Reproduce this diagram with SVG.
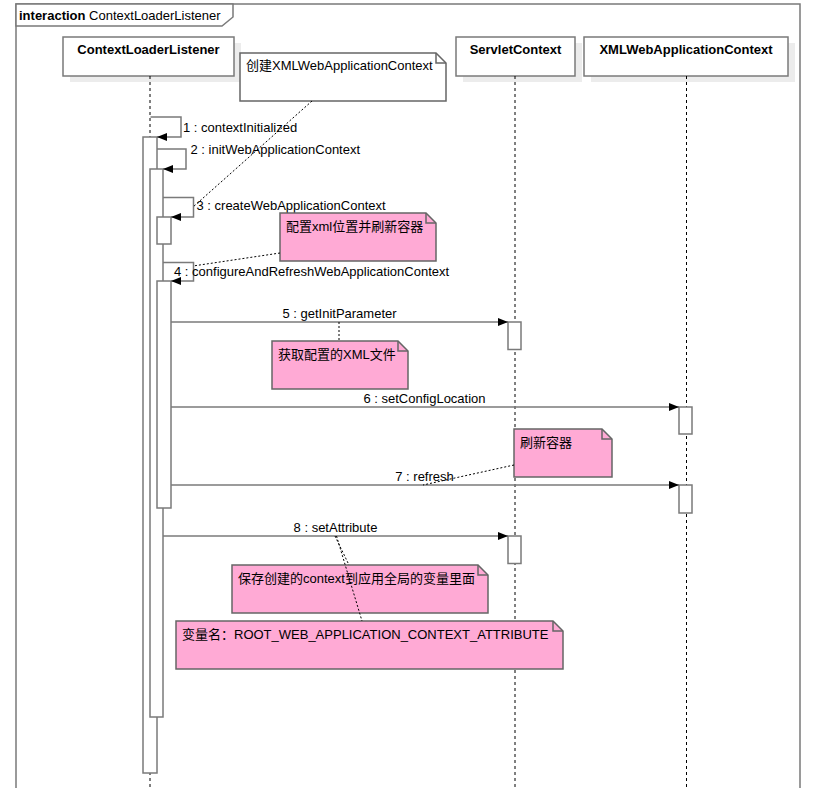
<svg xmlns="http://www.w3.org/2000/svg" width="823" height="788" viewBox="0 0 823 788">
<style>
text{font-family:"Liberation Sans","Noto Sans CJK SC",sans-serif;font-size:13px;fill:#000}
.head{font-weight:bold;text-anchor:middle}
.box{fill:#fff;stroke:#7a7a7a;stroke-width:1.5}
.shadow{fill:#ececec;stroke:none}
.life{stroke:#000;stroke-width:1;stroke-dasharray:3,3;fill:none}
.bar{fill:#fff;stroke:#7a7a7a;stroke-width:1.5}
.msg{fill:none;stroke:#7a7a7a;stroke-width:1.5;marker-end:url(#arr)}
.note{fill:#ffaad5;stroke:#666;stroke-width:1.5}
.wnote{fill:#fff;stroke:#666;stroke-width:1.5}
.fold{fill:none;stroke:#666;stroke-width:1.5}
.link{fill:none;stroke:#000;stroke-width:1;stroke-dasharray:2,2}
.mid{text-anchor:middle}
</style>
<defs>
<marker id="arr" markerUnits="userSpaceOnUse" markerWidth="11" markerHeight="9" refX="10" refY="4" orient="auto">
<path d="M0,0 L10,4 L0,8 Z" fill="#000"/>
</marker>
</defs>
<rect width="823" height="788" fill="#fff"/>
<g id="frame">
<path d="M16,788 V4 H800 V788" fill="none" stroke="#7a7a7a" stroke-width="1.5"/>
<path d="M16,4 H233 V17 L222,26 H16 Z" fill="#fff" stroke="#7a7a7a" stroke-width="1.5"/>
<text x="19" y="20"><tspan font-weight="bold">interaction</tspan> ContextLoaderListener</text>
</g>
<g id="lifeline-ContextLoaderListener">
<rect class="shadow" x="70" y="43" width="171" height="39"/>
<rect class="box" x="63" y="37" width="171" height="39"/>
<text class="head" x="148.5" y="54">ContextLoaderListener</text>
<line class="life" x1="150" y1="76" x2="150" y2="788"/>
</g>
<g id="lifeline-ServletContext">
<rect class="shadow" x="463" y="43" width="119" height="39"/>
<rect class="box" x="456" y="37" width="119" height="39"/>
<text class="head" x="515.5" y="54">ServletContext</text>
<line class="life" x1="515" y1="76" x2="515" y2="788"/>
</g>
<g id="lifeline-XMLWebApplicationContext">
<rect class="shadow" x="591" y="43" width="204" height="39"/>
<rect class="box" x="584" y="37" width="204" height="39"/>
<text class="head" x="686" y="54">XMLWebApplicationContext</text>
<line class="life" x1="686.5" y1="76" x2="686.5" y2="788"/>
</g>
<g id="activations">
<rect class="bar" x="143" y="137" width="14" height="636"/>
<rect class="bar" x="150" y="169" width="13" height="548"/>
<rect class="bar" x="157" y="217" width="14" height="27"/>
<rect class="bar" x="157" y="281" width="14" height="227"/>
<rect class="bar" x="508" y="322" width="13" height="27.5"/>
<rect class="bar" x="508" y="536" width="13" height="27.5"/>
<rect class="bar" x="679" y="407" width="13" height="27"/>
<rect class="bar" x="679" y="485" width="13" height="28"/>
</g>
<g id="connectors">
<path class="msg" d="M150.5,117 H181 V137 H157"/>
<text x="183" y="131.5">1 : contextInitialized</text>
<path class="msg" d="M157,149 H186 V169 H163"/>
<text x="190.5" y="153.5">2 : initWebApplicationContext</text>
<path class="msg" d="M163,197.5 H193.5 V217 H171"/>
<text x="196.5" y="209.5">3 : createWebApplicationContext</text>
<path class="msg" d="M163,262.5 H193.5 V281 H171"/>
<text x="174" y="276">4 : configureAndRefreshWebApplicationContext</text>
<path class="msg" d="M171,322 H508"/>
<text class="mid" x="339.5" y="318">5 : getInitParameter</text>
<path class="msg" d="M171,407 H679"/>
<text class="mid" x="424.5" y="403">6 : setConfigLocation</text>
<path class="msg" d="M171,485 H679"/>
<text class="mid" x="424.5" y="481">7 : refresh</text>
<path class="msg" d="M163,536 H508"/>
<text class="mid" x="335.5" y="532">8 : setAttribute</text>
</g>
<g id="note1">
<path class="wnote" d="M240,53 H436 L446,63 V101 H240 Z"/>
<path class="fold" d="M436,53 V63 H446"/>
<text x="246" y="70">创建XMLWebApplicationContext</text>
</g>
<g id="note2">
<path class="note" d="M280,213 H426 L436,223 V261 H280 Z"/>
<path class="fold" d="M426,213 V223 H436"/>
<text x="286" y="230.5">配置xml位置并刷新容器</text>
</g>
<g id="note3">
<path class="note" d="M272,341 H398 L408,351 V389 H272 Z"/>
<path class="fold" d="M398,341 V351 H408"/>
<text x="278" y="358.5">获取配置的XML文件</text>
</g>
<g id="note4">
<path class="note" d="M514,429 H602 L612,439 V477 H514 Z"/>
<path class="fold" d="M602,429 V439 H612"/>
<text x="520" y="446.5">刷新容器</text>
</g>
<g id="note5">
<path class="note" d="M232,565 H478 L488,575 V613 H232 Z"/>
<path class="fold" d="M478,565 V575 H488"/>
<text x="238" y="582.5">保存创建的context到应用全局的变量里面</text>
</g>
<g id="note6">
<path class="note" d="M176,621 H553 L563,631 V669 H176 Z"/>
<path class="fold" d="M553,621 V631 H563"/>
<text x="182" y="638.5">变量名：ROOT_WEB_APPLICATION_CONTEXT_ATTRIBUTE</text>
</g>
<g id="note-links">
<line class="link" x1="312" y1="101" x2="193" y2="207"/>
<line class="link" x1="280" y1="253" x2="193" y2="266"/>
<line class="link" x1="339" y1="322" x2="339" y2="341"/>
<line class="link" x1="514" y1="465" x2="423" y2="485"/>
<line class="link" x1="335" y1="536" x2="349" y2="565"/>
<line class="link" x1="336.5" y1="536" x2="362" y2="621"/>
</g>
</svg>
